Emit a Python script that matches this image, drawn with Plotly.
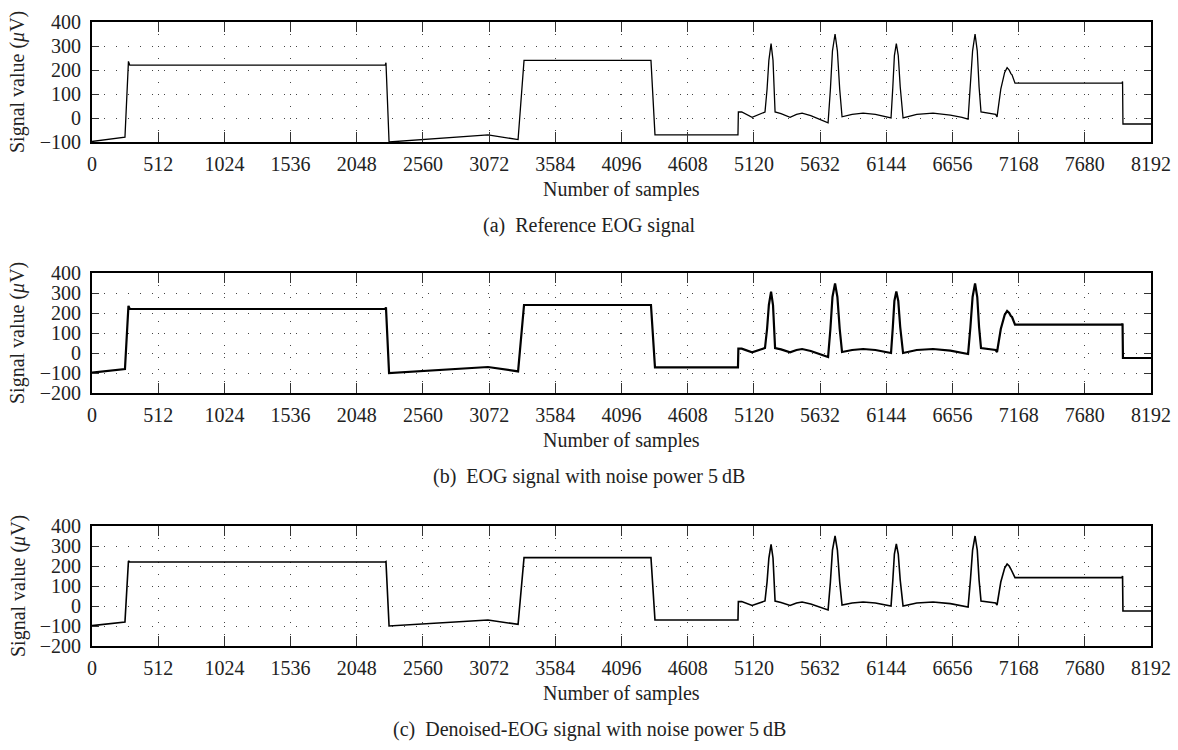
import plotly.graph_objects as go

# ---- data ----
samples = [0, 255, 282, 292, 2268, 2274, 2298, 3063, 3296, 3342, 4324, 4355,
           4997, 5000, 5026, 5106, 5206,
           5222, 5236, 5253, 5268, 5278, 5284,
           5330, 5400, 5450, 5493, 5560, 5630, 5694,
           5712, 5728, 5748, 5766, 5784, 5802,
           5880, 5965, 6060, 6140, 6181,
           6195, 6207, 6222, 6237, 6252, 6274,
           6380, 6506, 6640, 6730, 6777,
           6795, 6812, 6831, 6848, 6862, 6877,
           6990, 7001, 7030, 7060, 7079, 7095, 7108, 7117, 7140,
           7968, 7972, 7975, 8192]
reference = [-98, -80, 236, 220, 220, 230, -100, -70, -90, 240, 240, -70,
             -70, 25, 25, 3, 25,
             120, 240, 310, 240, 120, 25,
             18, 3, 15, 20, 10, -5, -20,
             120, 280, 350, 280, 120, 5,
             15, 20, 15, 5, 0,
             130, 260, 310, 260, 130, 0,
             15, 20, 12, 3, -5,
             130, 280, 350, 280, 130, 25,
             15, 5, 120, 190, 210, 200, 185, 180, 145,
             145, 152, -25, -25]
noisy = [-98, -80, 236, 220, 220, 228, -100, -70, -92, 240, 240, -72,
         -72, 22, 22, 3, 25,
         120, 240, 307, 240, 120, 25,
         18, 3, 15, 20, 10, -5, -20,
         120, 280, 348, 280, 120, 5,
         15, 20, 15, 5, 0,
         130, 260, 308, 260, 130, 0,
         15, 20, 12, 3, -5,
         130, 280, 348, 280, 130, 25,
         15, 5, 120, 190, 210, 200, 185, 180, 142,
         142, 148, -25, -25]
denoised = [-98, -80, 225, 220, 220, 222, -100, -70, -92, 242, 242, -70,
            -70, 22, 22, 3, 25,
            120, 240, 308, 240, 120, 25,
            18, 3, 15, 20, 10, -5, -20,
            120, 280, 350, 280, 120, 5,
            15, 20, 15, 5, 0,
            130, 260, 310, 260, 130, 0,
            15, 20, 12, 3, -5,
            130, 280, 350, 280, 130, 25,
            15, 5, 120, 190, 210, 200, 185, 175, 142,
            142, 150, -25, -25]

x_ticks = list(range(0, 8193, 512))
y_ticks_a = [-100, 0, 100, 200, 300, 400]
y_ticks_bc = [-200, -100, 0, 100, 200, 300, 400]
captions = ["(a)\u00a0\u00a0Reference EOG signal",
            "(b)\u00a0\u00a0EOG signal with noise power 5\u2009dB",
            "(c)\u00a0\u00a0Denoised-EOG signal with noise power 5\u2009dB"]
x_title = "Number of samples"
y_title = "Signal value (<i>\u03bc</i>V)"

W, H = 1178, 750
FONT = "Liberation Serif"
x0, x1 = 92, 1151
panels = [(22, 142), (273, 393), (526, 646)]
series = [reference, noisy, denoised]
yticks = [y_ticks_a, y_ticks_bc, y_ticks_bc]
yranges = [[-100, 400], [-200, 400], [-200, 400]]
widths = [1.3, 2.2, 1.6]

fig = go.Figure()
annotations = []
for i, ((top, bot), ys) in enumerate(zip(panels, series)):
    n = "" if i == 0 else str(i + 1)
    fig.add_trace(go.Scatter(x=samples, y=ys, mode="lines",
                             line=dict(color="black", width=widths[i]),
                             xaxis="x" + n, yaxis="y" + n, showlegend=False,
                             hoverinfo="skip"))
    common = dict(showline=True, linecolor="black", linewidth=2, mirror="ticks",
                  ticks="inside", tickcolor="#333", tickwidth=1, automargin=False,
                  showgrid=True, gridcolor="#444", gridwidth=1, griddash="1px,11px",
                  zeroline=False, tickfont=dict(family=FONT, size=20, color="#222"))
    fig.update_layout(**{
        "xaxis" + n: dict(domain=[x0 / W, x1 / W], range=[0, 8192], tickvals=x_ticks,
                          ticklen=10, anchor="y" + n, ticklabelstandoff=3, **common),
        "yaxis" + n: dict(domain=[1 - bot / H, 1 - top / H], range=yranges[i],
                          tickvals=yticks[i], ticklen=7, anchor="x" + n,
                          ticklabelstandoff=5, **common),
    })
    annotations.append(dict(x=(x0 + x1) / 2 / W, y=1 - (bot + 47) / H, xref="paper", yref="paper",
                             text=x_title, showarrow=False, xanchor="center", yanchor="middle",
                             font=dict(family=FONT, size=20, color="#222")))
    annotations.append(dict(x=589 / W, y=1 - (bot + 83) / H, xref="paper", yref="paper",
                            text=captions[i], showarrow=False, xanchor="center", yanchor="middle",
                            font=dict(family=FONT, size=20, color="#222")))
    annotations.append(dict(x=18 / W, y=1 - (top + bot) / 2 / H, xref="paper", yref="paper",
                            text=y_title, showarrow=False, textangle=-90,
                            xanchor="center", yanchor="middle",
                            font=dict(family=FONT, size=20, color="#222")))

fig.update_layout(width=W, height=H, margin=dict(l=0, r=0, t=0, b=0),
                  paper_bgcolor="white", plot_bgcolor="white",
                  annotations=annotations, showlegend=False)
fig.write_html("out.html", config={"displayModeBar": False},
               post_script="document.body.style.margin='0';document.body.style.overflow='hidden';")
